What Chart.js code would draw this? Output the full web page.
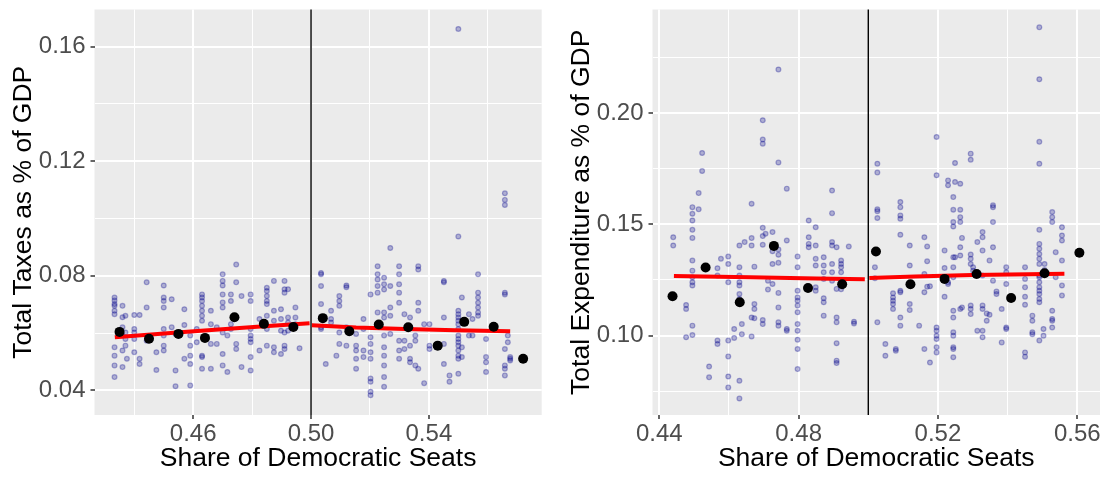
<!DOCTYPE html>
<html>
<head>
<meta charset="utf-8">
<script src="https://cdn.jsdelivr.net/npm/chart.js@4/dist/chart.umd.min.js"></script>
<style>
  body { margin: 0; background: #fff; }
  #wrap { position: relative; width: 1106px; height: 477px; }
  #taxes { position: absolute; left: 0; top: 0; }
  #spend { position: absolute; left: 560px; top: 0; }
</style>
</head>
<body>
<div id="wrap">
  <canvas id="taxes" width="560" height="477"></canvas>
  <canvas id="spend" width="546" height="477"></canvas>
</div>
<script>
// ---- data ----
var cutoff = 0.50;

// left panel: total taxes, each row = [share, y1, y2, ...]
var taxPoints = [
  [0.4333, 0.0724,0.0714,0.0701,0.0695,0.0678,0.0666,0.0550,0.0521,0.0487,0.0446],
  [0.4360, 0.0695,0.0655,0.0620,0.0591,0.0539,0.0481],
  [0.4370, 0.0660,0.0602,0.0579,0.0556],
  [0.4375, 0.0510],
  [0.4400, 0.0663,0.0614,0.0602,0.0579,0.0533],
  [0.4418, 0.0663,0.0510,0.0492],
  [0.4442, 0.0777,0.0689,0.0573],
  [0.4475, 0.0533,0.0471],
  [0.4500, 0.0766,0.0724,0.0712,0.0689,0.0614,0.0591,0.0556,0.0539],
  [0.4527, 0.0718,0.0620],
  [0.4540, 0.0597,0.0469,0.0414],
  [0.4570, 0.0683,0.0628,0.0510],
  [0.4590, 0.0591,0.0556,0.0521,0.0492,0.0417],
  [0.4612, 0.0614,0.0568],
  [0.4630, 0.0735,0.0724,0.0712,0.0695,0.0678,0.0660,0.0643,0.0521,0.0516,0.0475],
  [0.4660, 0.0678,0.0631,0.0562,0.0475],
  [0.4680, 0.0620,0.0562],
  [0.4700, 0.0805,0.0782,0.0766,0.0735,0.0707,0.0689,0.0602,0.0527,0.0487],
  [0.4716, 0.0591,0.0464],
  [0.4728, 0.0735,0.0712,0.0631,0.0614],
  [0.4746, 0.0839,0.0777,0.0654,0.0562,0.0544],
  [0.4764, 0.0729,0.0481],
  [0.4795, 0.0735,0.0712,0.0614,0.0591,0.0579,0.0568,0.0516,0.0469],
  [0.4825, 0.0649,0.0539],
  [0.4850, 0.0758,0.0747,0.0729,0.0712,0.0701,0.0660,0.0614,0.0556],
  [0.4874, 0.0782,0.0678,0.0643,0.0550,0.0533],
  [0.4898, 0.0683,0.0649,0.0608,0.0527],
  [0.4910, 0.0782,0.0753,0.0741,0.0602,0.0556,0.0544],
  [0.4922, 0.0753,0.0654,0.0637,0.0608],
  [0.4947, 0.0689,0.0654,0.0631],
  [0.4961, 0.0547],
  [0.5034, 0.0810,0.0805,0.0764,0.0701,0.0654,0.0620,0.0614],
  [0.5050, 0.0492],
  [0.5068, 0.0678,0.0649,0.0637],
  [0.5086, 0.0521],
  [0.5096, 0.0729,0.0712,0.0695,0.0602,0.0562],
  [0.5120, 0.0766,0.0760,0.0620,0.0556],
  [0.5153, 0.0597,0.0556,0.0539,0.0510,0.0475],
  [0.5178, 0.0649,0.0614,0.0539,0.0516],
  [0.5202, 0.0735,0.0585,0.0562,0.0533,0.0510,0.0441,0.0430,0.0395,0.0383],
  [0.5226, 0.0833,0.0805,0.0787,0.0764,0.0741,0.0672],
  [0.5248, 0.0793,0.0770,0.0752,0.0672,0.0654,0.0591,0.0550,0.0521,0.0487,0.0446,0.0412],
  [0.5269, 0.0897,0.0764,0.0689,0.0660,0.0597],
  [0.5299, 0.0833,0.0805,0.0770,0.0741,0.0706,0.0573,0.0539,0.0510],
  [0.5317, 0.0666,0.0573,0.0544],
  [0.5336, 0.0654,0.0556,0.0510,0.0498],
  [0.5354, 0.0591,0.0573,0.0487],
  [0.5364, 0.0833,0.0822,0.0706,0.0678,0.0475],
  [0.5384, 0.0631,0.0425],
  [0.5402, 0.0631,0.0556,0.0544],
  [0.5451, 0.0782,0.0777,0.0654,0.0562,0.0492],
  [0.5470, 0.0452,0.0430],
  [0.5500, 0.1662,0.0937,0.0678,0.0666,0.0654,0.0643,0.0631,0.0614,0.0591,0.0579,0.0568,0.0556,0.0539,0.0521,0.0510,0.0458],
  [0.5512, 0.0724,0.0550,0.0516],
  [0.5536, 0.0666,0.0591],
  [0.5548, 0.0649,0.0591],
  [0.5567, 0.0805,0.0741,0.0724,0.0706,0.0689,0.0672,0.0660],
  [0.5594, 0.0579,0.0516,0.0498,0.0464],
  [0.5658, 0.1088,0.1065,0.1047,0.0741,0.0735,0.0544,0.0487,0.0475,0.0452],
  [0.5668, 0.0591,0.0568],
  [0.5676, 0.0516,0.0510,0.0504]
];
var taxBinX = [0.435, 0.445, 0.455, 0.464, 0.474, 0.484, 0.494, 0.504, 0.513, 0.523, 0.533, 0.543, 0.552, 0.562, 0.572];
var taxBinY = [0.0604, 0.0580, 0.0597, 0.0583, 0.0655, 0.0632, 0.0621, 0.0652, 0.0606, 0.0630, 0.0620, 0.0556, 0.0639, 0.0622, 0.0510];
var taxFitLeftX = [0.4334, 0.4591, 0.4817, 0.4995];
var taxFitLeftY = [0.0585, 0.0605, 0.0622, 0.0634];
var taxFitRightX = [0.5003, 0.5153, 0.5320, 0.5489, 0.5676];
var taxFitRightY = [0.0627, 0.0619, 0.0614, 0.0610, 0.0606];

// right panel: total expenditure
var spendPoints = [
  [0.4440, 0.1442,0.1405],
  [0.4477, 0.1138,0.1120,0.0993],
  [0.4495, 0.1577,0.1547,0.1517,0.1475,0.1439,0.1337,0.1292,0.1262,0.1240,0.1225,0.1045,0.1003],
  [0.4513, 0.1640,0.1567],
  [0.4523, 0.1820,0.1739],
  [0.4543, 0.0862,0.0813],
  [0.4567, 0.1303,0.1270,0.0978,0.0963],
  [0.4577, 0.1345],
  [0.4598, 0.1355,0.1322,0.1240,0.0978,0.0907,0.0817,0.0768],
  [0.4615, 0.1030,0.0990],
  [0.4630, 0.1405,0.1307,0.1270,0.1240,0.1225,0.1187,0.1165,0.0798,0.0718],
  [0.4637, 0.1052,0.1007],
  [0.4645, 0.1420],
  [0.4665, 0.1592,0.1438,0.1405,0.1082,0.0996],
  [0.4673, 0.1310,0.1142,0.1120,0.1078],
  [0.4697, 0.1967,0.1880,0.1862,0.1484,0.1447,0.1408,0.1070,0.1052],
  [0.4705, 0.1457],
  [0.4712, 0.1247,0.1207],
  [0.4725, 0.1465,0.1379,0.1322,0.1232],
  [0.4742, 0.2195,0.1777,0.1387,0.1363,0.1327,0.1192,0.1127,0.1060,0.1045],
  [0.4766, 0.1660,0.1427,0.1030,0.1022],
  [0.4797, 0.1355,0.1307,0.1202,0.1172,0.1157,0.1135,0.1105,0.1052,0.1022,0.0982,0.0940,0.0850],
  [0.4829, 0.1517,0.1442,0.1412,0.1397],
  [0.4849, 0.1487,0.1405,0.1345,0.1315,0.1217,0.1202],
  [0.4872, 0.1352,0.1315,0.1285,0.1255,0.1168,0.1150,0.1090],
  [0.4896, 0.1652,0.1550,0.1420,0.1405,0.1322,0.1285,0.1247],
  [0.4909, 0.1397,0.1210,0.1082,0.1060,0.0966,0.0888,0.0877],
  [0.4922, 0.1337,0.1322,0.1307,0.1285,0.1247,0.1208],
  [0.4944, 0.1400],
  [0.4959, 0.1063,0.1055],
  [0.5019, 0.1307,0.1258],
  [0.5026, 0.1772,0.1732,0.1567,0.1559,0.1528,0.1060],
  [0.5049, 0.0963,0.0910],
  [0.5071, 0.1190,0.1172,0.1157,0.1142,0.1120],
  [0.5079, 0.0940,0.0933],
  [0.5092, 0.1600,0.1577,0.1540,0.1525,0.1453,0.1202,0.1195,0.1082,0.1045],
  [0.5119, 0.1405,0.1315,0.1142,0.1115],
  [0.5146, 0.1045],
  [0.5161, 0.1442,0.1277,0.1195,0.0940],
  [0.5169, 0.1400,0.1334,0.1220],
  [0.5177, 0.1222,0.0880],
  [0.5196, 0.1892,0.1720,0.1037,0.1022,0.1000,0.0985,0.0948,0.0925],
  [0.5219, 0.1382,0.1304,0.1175],
  [0.5229, 0.1697,0.1675,0.1240,0.1232],
  [0.5244, 0.1622,0.1565,0.1510,0.1490,0.1352,0.1307,0.1262,0.1112,0.1082,0.1015,0.1000,0.0948,0.0940,0.0903],
  [0.5249, 0.1775,0.1690,0.1352],
  [0.5264, 0.1682,0.1565,0.1532,0.1510,0.1397,0.1360,0.1120],
  [0.5269, 0.1439,0.1127],
  [0.5294, 0.1817,0.1790,0.1364,0.1345,0.1322,0.1135,0.1120,0.1097],
  [0.5301, 0.1307,0.1292],
  [0.5313, 0.1420,0.1022],
  [0.5328, 0.1465,0.1442,0.1382,0.1270,0.1135,0.1120,0.1022,0.0993],
  [0.5340, 0.1100,0.1067],
  [0.5348, 0.1337,0.1094],
  [0.5358, 0.1585,0.1577,0.1510,0.1397,0.1247],
  [0.5368, 0.1198,0.1187],
  [0.5383, 0.1120,0.0970],
  [0.5396, 0.1307,0.1285,0.1232,0.1037,0.1030],
  [0.5450, 0.1307,0.1255,0.1217,0.1175,0.1139,0.0925,0.0906],
  [0.5471, 0.1090,0.1067,0.1015,0.1007],
  [0.5491, 0.2384,0.2151,0.1870,0.1772,0.1475,0.1412,0.1390,0.1367,0.1345,0.1322,0.1270,0.1262,0.1240,0.1217,0.1202,0.1187,0.1165,0.1150,0.0978],
  [0.5503, 0.1030,0.1000],
  [0.5506, 0.1322,0.1295],
  [0.5528, 0.1555,0.1532,0.1510,0.1112,0.1075,0.1067,0.1037],
  [0.5538, 0.1375,0.1262],
  [0.5556, 0.1487,0.1450,0.1427,0.1337,0.1225,0.1180]
];
var spendBinX = [0.4438, 0.4533, 0.4631, 0.4729, 0.4827, 0.4925, 0.5022, 0.5121, 0.5219, 0.5311, 0.5410, 0.5506, 0.5606];
var spendBinY = [0.1177, 0.1306, 0.1150, 0.1403, 0.1214, 0.1231, 0.1378, 0.1231, 0.1255, 0.1277, 0.1169, 0.1280, 0.1372];
var spendFitLeftX = [0.4442, 0.4660, 0.4852, 0.4990];
var spendFitLeftY = [0.1268, 0.1262, 0.1257, 0.1253];
var spendFitRightX = [0.5003, 0.5134, 0.5297, 0.5459, 0.5563];
var spendFitRightY = [0.1259, 0.1266, 0.1272, 0.1276, 0.1278];

// axis ticks (gridlines) and the ones that carry a label
var taxXTicks = [0.44, 0.46, 0.48, 0.50, 0.52, 0.54, 0.56];
var taxXLabels = [0.46, 0.50, 0.54];
var taxYTicks = [0.04, 0.06, 0.08, 0.10, 0.12, 0.14, 0.16];
var taxYLabels = [0.04, 0.08, 0.12, 0.16];
var spendXTicks = [0.44, 0.46, 0.48, 0.50, 0.52, 0.54, 0.56];
var spendXLabels = [0.44, 0.48, 0.52, 0.56];
var spendYTicks = [0.075, 0.10, 0.125, 0.15, 0.175, 0.20, 0.225];
var spendYLabels = [0.10, 0.15, 0.20];

// ---- helpers ----
function flatten(rows) {
  var out = [];
  rows.forEach(function (r) {
    for (var i = 1; i < r.length; i++) out.push({ x: r[0], y: r[i] });
  });
  return out;
}
function pairs(xs, ys) {
  return xs.map(function (x, i) { return { x: x, y: ys[i] }; });
}
function isMajor(v, list) {
  return list.some(function (m) { return Math.abs(m - v) < 1e-9; });
}

var FONT = '"Liberation Sans", Arial, sans-serif';

var panelBg = {
  id: 'panelBg',
  beforeDraw: function (chart) {
    var a = chart.chartArea, ctx = chart.ctx;
    ctx.save();
    ctx.fillStyle = '#EBEBEB';
    ctx.fillRect(a.left, a.top, a.right - a.left, a.bottom - a.top);
    ctx.restore();
  },
  beforeDatasetsDraw: function (chart) {
    var a = chart.chartArea, ctx = chart.ctx;
    var px = chart.scales.x.getPixelForValue(cutoff);
    ctx.save();
    ctx.strokeStyle = '#000';
    ctx.lineWidth = 1.4;
    ctx.beginPath();
    ctx.moveTo(px, a.top);
    ctx.lineTo(px, a.bottom);
    ctx.stroke();
    ctx.restore();
  }
};

function axis(ticks, labels, range, title, isX, size, titlePad) {
  return {
    type: 'linear',
    min: range[0],
    max: range[1],
    afterBuildTicks: function (s) {
      s.ticks = ticks.map(function (v) { return { value: v }; });
    },
    afterFit: function (s) {
      if (isX) { s.height = size; } else { s.width = size; }
      s.paddingLeft = 0; s.paddingRight = 0; s.paddingTop = 0; s.paddingBottom = 0;
    },
    border: { display: false },
    grid: {
      color: '#FFFFFF',
      lineWidth: function (c) { return isMajor(c.tick.value, labels) ? 2 : 1; },
      drawTicks: true,
      tickLength: 4,
      tickColor: function (c) { return isMajor(c.tick.value, labels) ? '#333333' : 'rgba(0,0,0,0)'; },
      tickWidth: function (c) { return isMajor(c.tick.value, labels) ? 1.5 : 0; }
    },
    ticks: {
      color: '#4D4D4D',
      font: { family: FONT, size: 24 },
      padding: isX ? 1 : 5,
      maxRotation: 0,
      autoSkip: false,
      callback: function (v) { return isMajor(v, labels) ? v.toFixed(2) : ''; }
    },
    title: {
      display: true,
      text: title,
      color: '#000000',
      font: { family: FONT, size: 26.5 },
      padding: titlePad
    }
  };
}

function panel(id, rows, binX, binY, fitLX, fitLY, fitRX, fitRY, xr, yr, xt, xl, yt, yl, ytitle, yWidth, rightPad, yTitlePad) {
  var fit = {
    type: 'line', showLine: true, pointRadius: 0, borderColor: '#FF0000',
    borderWidth: 4, tension: 0, fill: false, order: 1
  };
  return new Chart(document.getElementById(id), {
    type: 'scatter',
    data: {
      datasets: [
        { data: pairs(binX, binY), pointRadius: 5, pointBorderWidth: 0,
          backgroundColor: '#000000', borderColor: '#000000', order: 0 },
        Object.assign({ data: pairs(fitLX, fitLY) }, fit),
        Object.assign({ data: pairs(fitRX, fitRY) }, fit),
        { data: flatten(rows), pointRadius: 2.4, pointBorderWidth: 1.2,
          backgroundColor: 'rgba(0,0,139,0.26)', borderColor: 'rgba(0,0,139,0.32)', order: 2 }
      ]
    },
    options: {
      responsive: false,
      animation: false,
      devicePixelRatio: 1,
      layout: { padding: { top: 9.5, right: rightPad, bottom: 0, left: 0 } },
      plugins: { legend: { display: false }, tooltip: { enabled: false } },
      scales: {
        x: axis(xt, xl, xr, 'Share of Democratic Seats', true, 62, { top: 0, bottom: 2 }),
        y: axis(yt, yl, yr, ytitle, false, yWidth, { top: yTitlePad, bottom: 0 })
      }
    },
    plugins: [panelBg]
  });
}

panel('taxes', taxPoints, taxBinX, taxBinY, taxFitLeftX, taxFitLeftY, taxFitRightX, taxFitRightY,
  [0.4265, 0.5783], [0.03137, 0.1730], taxXTicks, taxXLabels, taxYTicks, taxYLabels,
  'Total Taxes as % of GDP', 94.5, 18.3, 7.5);
panel('spend', spendPoints, spendBinX, spendBinY, spendFitLeftX, spendFitLeftY, spendFitRightX, spendFitRightY,
  [0.43805, 0.56652], [0.06441, 0.2464], spendXTicks, spendXLabels, spendYTicks, spendYLabels,
  'Total Expenditure as % of GDP', 92.5, 6, 6);
</script>
</body>
</html>
